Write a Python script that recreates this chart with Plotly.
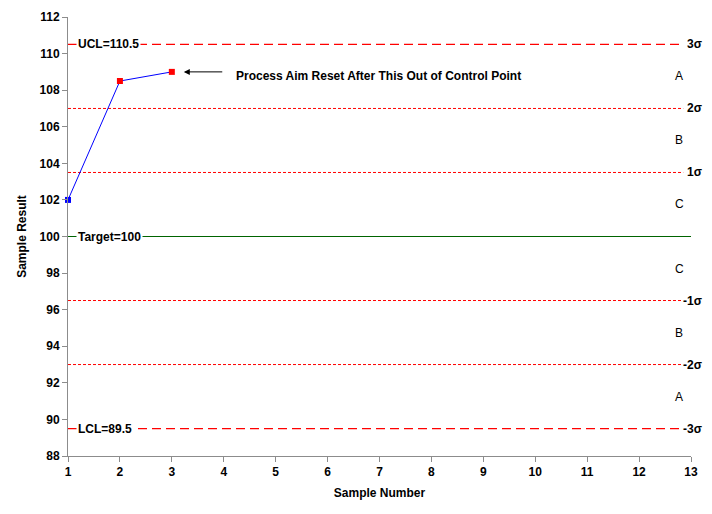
import plotly.graph_objects as go

samples = [1, 2, 3]
results = [102, 108.5, 109]
point_colors = ["#0000FF", "#FF0000", "#FF0000"]

target = 100
sigma = 3.5
ucl = 110.5
lcl = 89.5
sigma_levels = [3, 2, 1, -1, -2, -3]
sigma_labels = ["3σ", "2σ", "1σ", "-1σ", "-2σ", "-3σ"]
zone_letters = ["A", "B", "C", "C", "B", "A"]
zone_centers = [108.75, 105.25, 101.75, 98.25, 94.75, 91.25]
x_ticks = list(range(1, 14))
y_ticks = list(range(88, 113, 2))

FONT = "Liberation Sans, Arial, sans-serif"

fig = go.Figure()

x_span = [1, 12.85]
for lv in sigma_levels:
    yv = target + lv * sigma
    if abs(lv) == 3:
        dash, col, w = "9px,5px", "#FF0000", 1.3
    else:
        dash, col, w = "3px,2px", "#FF0000", 1
    fig.add_trace(go.Scatter(x=x_span, y=[yv, yv], mode="lines",
                             line=dict(color=col, width=w, dash=dash),
                             hoverinfo="skip", showlegend=False))

fig.add_trace(go.Scatter(x=[1, 13], y=[target, target], mode="lines",
                         line=dict(color="#006400", width=1),
                         hoverinfo="skip", showlegend=False))

fig.add_trace(go.Scatter(x=samples, y=results, mode="lines+markers",
                         line=dict(color="#0000FF", width=1),
                         marker=dict(symbol="square", size=6, color=point_colors),
                         showlegend=False, cliponaxis=False))

# left labels
for txt, yv in [("UCL=110.5", ucl), ("Target=100", target), ("LCL=89.5", lcl)]:
    fig.add_annotation(x=1, y=yv, xref="x", yref="y", text="<b>" + txt + "</b>",
                       showarrow=False, xanchor="left", xshift=8, bgcolor="white",
                       font=dict(family=FONT, size=12, color="black"), borderpad=1)

# right sigma labels
for lv, lab in zip(sigma_levels, sigma_labels):
    fig.add_annotation(x=1, y=target + lv * sigma, xref="paper", yref="y",
                       text="<b>" + lab + "</b>", showarrow=False, xanchor="right",
                       xshift=12, bgcolor="white",
                       font=dict(family=FONT, size=12, color="black"), borderpad=0)

for letter, yc in zip(zone_letters, zone_centers):
    fig.add_annotation(x=12.77, y=yc, xref="x", yref="y", text=letter,
                       showarrow=False, xanchor="center",
                       font=dict(family=FONT, size=12, color="black"))

fig.add_annotation(x=samples[2], y=results[2], xref="x", yref="y",
                   ax=4.0, ay=results[2], axref="x", ayref="y",
                   text="", showarrow=True, arrowhead=2, arrowsize=1.2,
                   arrowwidth=1, arrowcolor="black", standoff=12)
fig.add_annotation(x=4.2, y=results[2], xref="x", yref="y",
                   text="<b>Process Aim Reset After This Out of Control Point</b>",
                   showarrow=False, xanchor="left", yshift=-4,
                   font=dict(family=FONT, size=12, color="black"))

axis_common = dict(showgrid=False, zeroline=False, showline=True,
                   linecolor="#8C8C8C", linewidth=1, ticks="outside",
                   tickcolor="#8C8C8C", ticklen=5, automargin=False,
                   tickfont=dict(family=FONT, size=12, color="black", weight="bold"))

fig.update_layout(
    width=704, height=494,
    margin=dict(l=60, r=21, t=9, b=46),
    paper_bgcolor="white", plot_bgcolor="white",
    xaxis=dict(range=[1, 13], tickvals=x_ticks, **axis_common,
               title=dict(text="<b>Sample Number</b>", standoff=10,
                          font=dict(family=FONT, size=12, color="black"))),
    yaxis=dict(range=[88, 112], tickvals=y_ticks, **axis_common,
               title=dict(text="<b>Sample Result</b>", standoff=10,
                          font=dict(family=FONT, size=12, color="black"))),
)

fig.write_html("out.html")
